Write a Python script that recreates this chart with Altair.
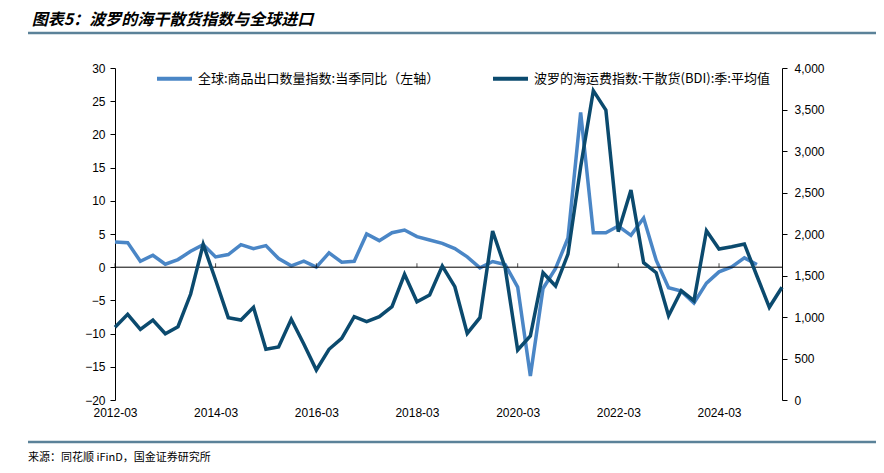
import altair as alt
import pandas as pd

# ---------------- data ----------------
quarters = [f"{y}-{m:02d}" for y in range(2012, 2026) for m in (3, 6, 9, 12)][:54]

export_yoy = [3.8, 3.7, 0.9, 1.8, 0.45, 1.15, 2.4, 3.4, 1.55, 1.9, 3.4, 2.8, 3.25, 1.3,
              0.2, 0.9, 0.0, 2.15, 0.75, 0.9, 5.0, 4.0, 5.2, 5.6, 4.6, 4.1, 3.6,
              2.8, 1.55, -0.1, 0.85, 0.4, -3.0, -16.4, -3.2, -0.2, 4.4,
              23.3, 5.2, 5.2, 6.2, 4.8, 7.4, 1.05, -3.1, -3.6, -5.4, -2.4, -0.7, 0.05, 1.4, 0.4]

bdi = [876, 1032, 852, 964, 799, 883, 1277, 1876, 1446, 992, 964, 1117, 611, 638,
       972, 675, 361, 611, 743, 1004, 944, 1004, 1124, 1514, 1184, 1265, 1614,
       1365, 803, 992, 2036, 1594, 602, 771, 1534, 1373, 1757,
       2811, 3727, 3494, 2028, 2530, 1654, 1534, 1016, 1317, 1196, 2040, 1819, 1847, 1880, 1494, 1117, 1358]

tick_years = [2012, 2014, 2016, 2018, 2020, 2022, 2024]
tick_labels = [f"{y}-03" for y in tick_years]

S1 = "全球:商品出口数量指数:当季同比（左轴）"
S2 = "波罗的海运费指数:干散货(BDI):季:平均值"
C1 = "#4a86c6"
C2 = "#0b4a6e"

title_text = "图表5：波罗的海干散货指数与全球进口"
source_text = "来源：同花顺 iFinD，国金证券研究所"

df1 = pd.DataFrame({"date": quarters[:len(export_yoy)], "value": export_yoy, "series": S1})
df2 = pd.DataFrame({"date": quarters, "value": bdi, "series": S2})
ticks_df = pd.DataFrame({"date": tick_labels, "z": [0] * len(tick_labels)})
zero_df = pd.DataFrame({"z": [0]})
src_df = pd.DataFrame({"t": [source_text]})

# ---------------- scales / axes ----------------
x_dom = [alt.DateTime(year=2012, month=3, date=1, utc=True),
         alt.DateTime(year=2025, month=6, date=1, utc=True)]
x_scale = alt.Scale(type="utc", domain=x_dom)
x_vals = [alt.DateTime(year=y, month=3, date=1, utc=True) for y in tick_years]

x_axis = alt.Axis(values=x_vals, format="%Y-%m", formatType="time", domain=False, ticks=False,
                  grid=False, labelPadding=7, labelFont="Liberation Sans", labelFontSize=12,
                  labelColor="black", title=None, labelFlush=False)

left_scale = alt.Scale(domain=[-20, 30], nice=False, zero=False)
right_scale = alt.Scale(domain=[0, 4000], nice=False)

left_axis = alt.Axis(values=list(range(-20, 31, 5)), orient="left", grid=False, title=None,
                     format="d", domainColor="black", tickColor="black", tickSize=5,
                     labelPadding=5, labelFont="Liberation Sans", labelFontSize=12,
                     labelColor="black")

color_scale = alt.Scale(domain=[S1, S2], range=[C1, C2])
legend = alt.Legend(orient="none", legendX=40, legendY=-9, direction="horizontal", title=None,
                    symbolType="stroke", symbolStrokeWidth=4, symbolSize=1225,
                    labelFont="Noto Sans CJK SC", labelFontSize=13, labelColor="black",
                    labelLimit=500, columnPadding=45, labelOffset=4)

export_line = alt.Chart(df1).mark_line(strokeWidth=3.5).encode(
    x=alt.X("date:T", scale=x_scale, axis=x_axis),
    y=alt.Y("value:Q", scale=left_scale, axis=left_axis),
    color=alt.Color("series:N", scale=color_scale, legend=legend),
)

zero_rule = alt.Chart(zero_df).mark_rule(color="black", strokeWidth=1).encode(
    y=alt.Y("z:Q", scale=left_scale, axis=left_axis)
)

zero_ticks = alt.Chart(ticks_df).mark_tick(orient="vertical", size=4, thickness=1,
                                           color="black", yOffset=-2).encode(
    x=alt.X("date:T", scale=x_scale, axis=x_axis),
    y=alt.Y("z:Q", scale=left_scale, axis=left_axis),
)

top_line = alt.Chart(zero_df).mark_rule(color="#5b8299", strokeWidth=2.5).encode(
    x=alt.value(-87), x2=alt.value(770), y=alt.value(-35)
)
bottom_line = alt.Chart(zero_df).mark_rule(color="#5b8299", strokeWidth=2.5).encode(
    x=alt.value(-87), x2=alt.value(770), y=alt.value(374)
)
source = alt.Chart(src_df).mark_text(align="left", baseline="middle", font="Noto Sans CJK SC",
                                     fontSize=11, color="black").encode(
    x=alt.value(-87), y=alt.value(390), text="t:N"
)

left_layer = alt.layer(export_line, zero_rule, zero_ticks, top_line, bottom_line, source)

bdi_line = alt.Chart(df2).mark_line(strokeWidth=3.5).encode(
    x=alt.X("date:T", scale=x_scale, axis=x_axis),
    y=alt.Y("value:Q", scale=right_scale,
            axis=alt.Axis(values=list(range(0, 4001, 500)), orient="right", format=",.0f",
                          grid=False, title=None, domainColor="black", tickColor="black",
                          tickSize=5, labelPadding=7, labelFont="Liberation Sans",
                          labelFontSize=12, labelColor="black")),
    color=alt.Color("series:N", scale=color_scale, legend=legend),
)

chart = alt.layer(left_layer, bdi_line).resolve_scale(y="independent").properties(
    width=667, height=332,
    padding={"left": 107, "top": 60, "right": 94, "bottom": 65},
    autosize=alt.AutoSizeParams(type="none"),
    background="white",
    title=alt.TitleParams(text=title_text, anchor="start", dx=5, offset=4,
                          font="Noto Sans CJK SC", fontSize=16, fontWeight="bold",
                          fontStyle="italic", color="black"),
).configure_view(stroke=None)

chart.save("out.html", embed_options={"renderer": "svg", "actions": False})
